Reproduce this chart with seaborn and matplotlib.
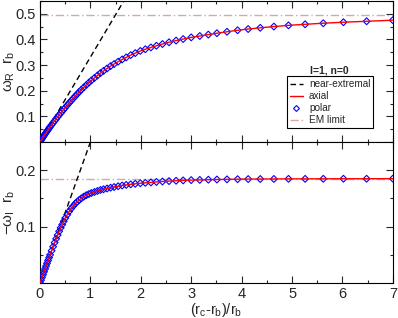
import numpy as np
import pandas as pd
import matplotlib
matplotlib.use("Agg")
import matplotlib.pyplot as plt
from matplotlib.lines import Line2D
from matplotlib.ticker import MultipleLocator, FixedFormatter, FixedLocator
import seaborn as sns

sns.set_style("ticks")
plt.rcParams["font.family"] = ["Liberation Sans", "DejaVu Sans"]
plt.rcParams["mathtext.fontset"] = "custom"
plt.rcParams["mathtext.rm"] = "Liberation Sans"
plt.rcParams["mathtext.it"] = "Liberation Sans"

# ==========================
# DATA  (l=1, n=0)
# ==========================
x_vals = [0.0, 0.02, 0.04, 0.06, 0.08, 0.1, 0.12, 0.14, 0.16, 0.18, 0.2,
          0.23, 0.26, 0.29, 0.32, 0.35, 0.38, 0.41, 0.44, 0.47, 0.5,
          0.54, 0.58, 0.62, 0.66, 0.7, 0.74, 0.78, 0.82, 0.87, 0.92, 0.97,
          1.02, 1.08, 1.14, 1.2, 1.26, 1.33, 1.4, 1.47, 1.55, 1.63, 1.71,
          1.8, 1.89, 1.99, 2.09, 2.2, 2.31, 2.43, 2.56, 2.7, 2.84, 3.0,
          3.17, 3.34, 3.51, 3.71, 3.92, 4.13, 4.37, 4.64, 4.93, 5.26,
          5.62, 6.02, 6.48, 7.0]

wr_vals = [0.0, 0.0062, 0.0124, 0.0186, 0.0248, 0.031, 0.0366, 0.0422, 0.0478, 0.0534, 0.059,
           0.0668, 0.0746, 0.0824, 0.090, 0.0975, 0.105, 0.1124, 0.1196, 0.1268, 0.134,
           0.1432, 0.1524, 0.1614, 0.1702, 0.179, 0.1874, 0.1958, 0.2038, 0.2133, 0.2226, 0.2316,
           0.2403, 0.2498, 0.2594, 0.269, 0.2771, 0.2866, 0.296, 0.3041, 0.3133, 0.322, 0.330,
           0.339, 0.3467, 0.3552, 0.3618, 0.3688, 0.3754, 0.3821, 0.3889, 0.3956, 0.4016, 0.408,
           0.4134, 0.4189, 0.4243, 0.4299, 0.4358, 0.4406, 0.4454, 0.4502, 0.4549, 0.4591,
           0.4632, 0.4672, 0.4708, 0.475]

wi_vals = [0.0, 0.005, 0.010, 0.015, 0.020, 0.025, 0.030, 0.035, 0.040, 0.045, 0.050,
           0.0572, 0.0644, 0.0716, 0.0784, 0.085, 0.0916, 0.0979, 0.1036, 0.1093, 0.115,
           0.121, 0.127, 0.1322, 0.1366, 0.141, 0.1442, 0.1474, 0.1502, 0.1532, 0.1558, 0.1578,
           0.1596, 0.1614, 0.1632, 0.165, 0.1662, 0.1676, 0.169, 0.1702, 0.1716, 0.1729, 0.1739,
           0.175, 0.1759, 0.1769, 0.1776, 0.1783, 0.1792, 0.180, 0.1807, 0.1813, 0.1819, 0.1825,
           0.1828, 0.1832, 0.1835, 0.1838, 0.1841, 0.1843, 0.1844, 0.1845, 0.1847, 0.1847,
           0.1848, 0.1849, 0.1849, 0.185]

near_x = [0.0, 2.0]
near_wr = [0.0, 0.662]
near_wi = [0.0, 0.50]

em_wr = 0.4966
em_wi = 0.185

df = pd.DataFrame({"x": x_vals, "wr": wr_vals, "wi": wi_vals})
near = pd.DataFrame({"x": near_x, "wr": near_wr, "wi": near_wi})

# ==========================
# FIGURE
# ==========================
fig = plt.figure(figsize=(3.98, 3.18), dpi=100)
ax1 = fig.add_axes([0.1005, 0.5535, 0.8865, 0.4434])
ax2 = fig.add_axes([0.1005, 0.110, 0.8865, 0.4434], sharex=ax1)

em_col = "#d8a8a8"

for ax, col, em, ylim in [(ax1, "wr", em_wr, 0.55), (ax2, "wi", em_wi, 0.25)]:
    ax.axhline(em, color=em_col, lw=1, ls=(0, (6, 2, 1, 2)), zorder=1)
    sns.lineplot(data=near, x="x", y=col, ax=ax, color="black", lw=1,
                 linestyle=(0, (4, 2.5)), sort=False, zorder=2)
    sns.scatterplot(data=df, x="x", y=col, ax=ax, marker="D", s=12,
                    facecolor="none", edgecolor="#0000ff", linewidth=0.8, zorder=3)
    sns.lineplot(data=df, x="x", y=col, ax=ax, color="red", lw=1, sort=False, zorder=4)
    ax.set_xlim(0, 7)
    ax.set_ylim(0, ylim)
    ax.xaxis.set_major_locator(MultipleLocator(1))
    ax.xaxis.set_minor_locator(MultipleLocator(0.5))
    ax.yaxis.set_minor_locator(MultipleLocator(0.05))
    ax.tick_params(which="both", direction="in", top=True, right=True, labelsize=10.5)
    ax.tick_params(which="major", length=5, width=0.8, pad=3)
    ax.tick_params(which="minor", length=2.5, width=0.8)
    for s in ax.spines.values():
        s.set_linewidth(0.8)
        s.set_color("black")
    ax.set_xlabel("")

ax1.yaxis.set_major_locator(FixedLocator([0.1, 0.2, 0.3, 0.4, 0.5]))
ax1.yaxis.set_major_formatter(FixedFormatter(["0.1", "0.2", "0.3", "0.4", "0.5"]))
ax2.yaxis.set_major_locator(FixedLocator([0.1, 0.2]))
ax2.yaxis.set_major_formatter(FixedFormatter(["0.1", "0.2"]))
ax1.tick_params(labelbottom=False)

ax1.set_ylabel(r"$\omega_R\ \ r_b$", fontsize=11, va="center")
ax2.set_ylabel(r"$-\omega_I\ \ r_b$", fontsize=11, va="center")
ax1.yaxis.set_label_coords(-0.088, 0.5)
ax2.yaxis.set_label_coords(-0.088, 0.5)
ax2.set_xlabel(r"$(r_c$-$r_b)/r_b$", fontsize=10.5, va="center")
ax2.xaxis.set_label_coords(0.5, -0.193)

ax1.text(0.82, 0.51, "l=1, n=0", transform=ax1.transAxes, fontsize=7.5,
         fontweight="bold", ha="center", va="center")

handles = [
    Line2D([], [], color="black", lw=1, linestyle=(0, (4, 2.5))),
    Line2D([], [], color="red", lw=1),
    Line2D([], [], color="#0000ff", marker="D", markersize=3, mfc="none",
           mew=0.8, lw=0),
    Line2D([], [], color=em_col, lw=1, ls=(0, (6, 2, 1, 2))),
]
leg = ax1.legend(handles, ["near-extremal", "axial", "polar", "EM limit"],
                 loc="lower left", bbox_to_anchor=(0.70, 0.099), fontsize=7.2,
                 handlelength=1.3, handletextpad=0.6, labelspacing=0.2,
                 borderpad=0.3, borderaxespad=0, fancybox=False, framealpha=1,
                 edgecolor="black")
leg.get_frame().set_linewidth(0.8)

fig.savefig("out.png", dpi=100)
